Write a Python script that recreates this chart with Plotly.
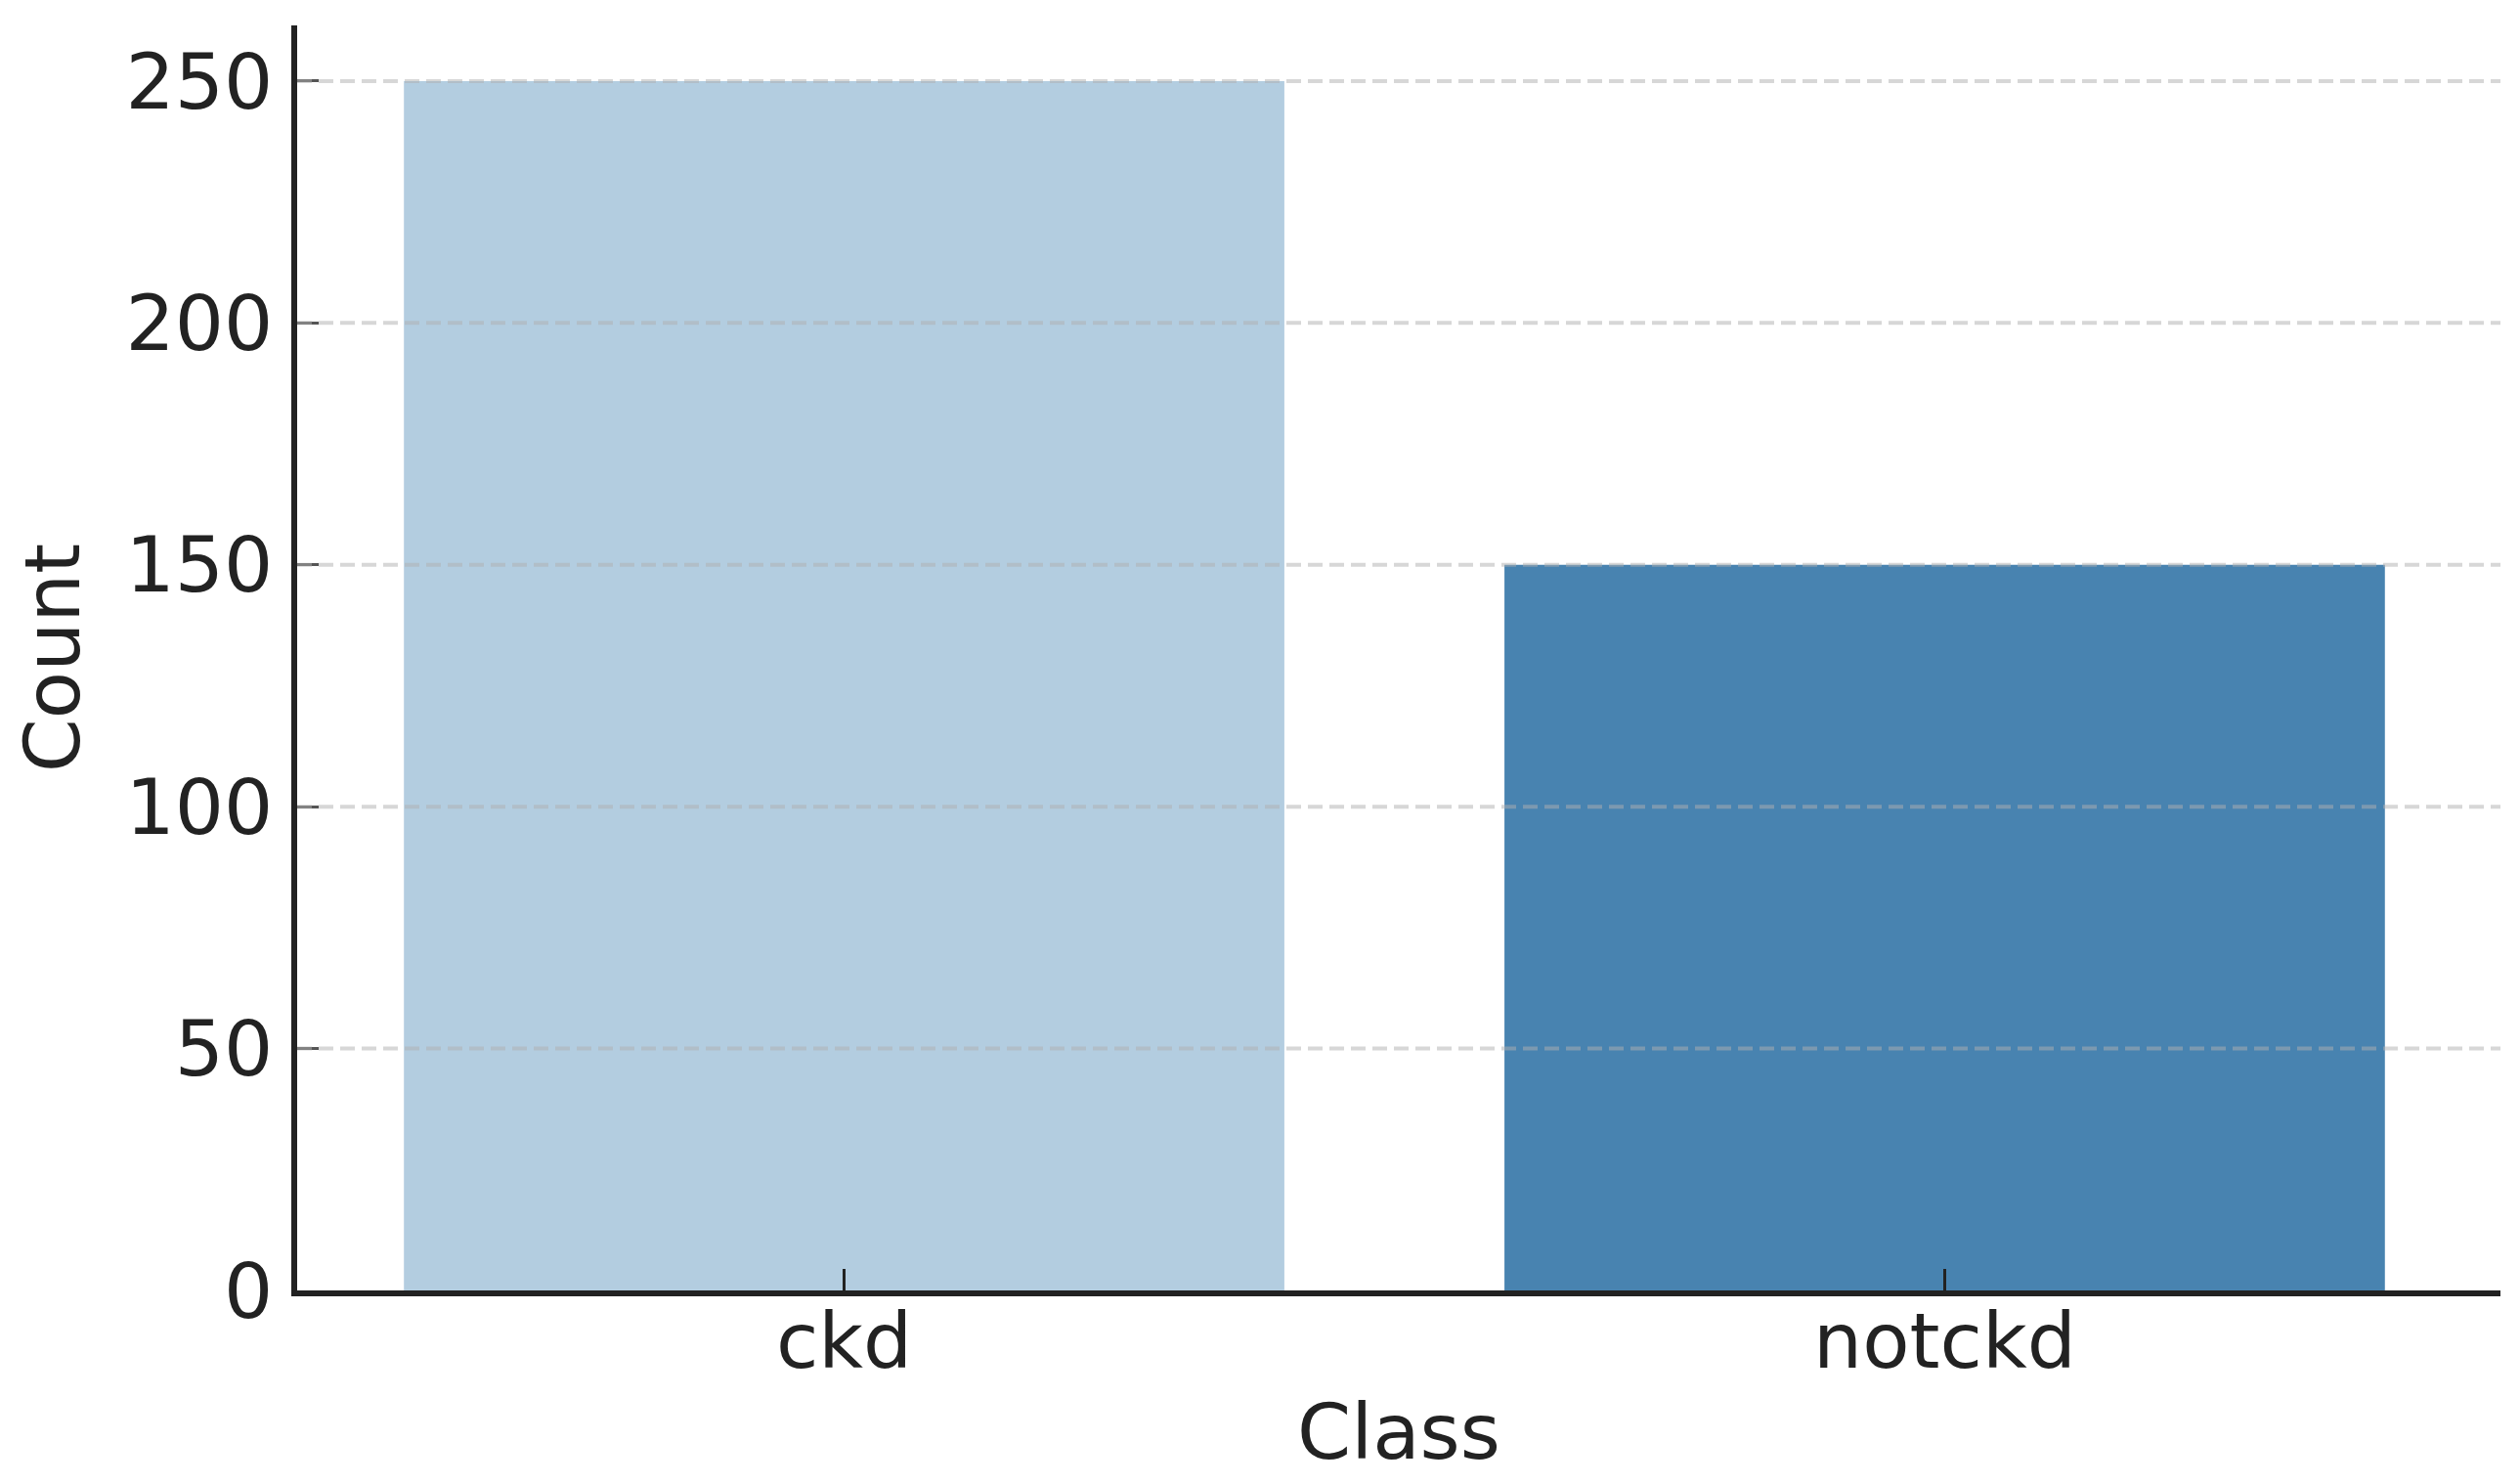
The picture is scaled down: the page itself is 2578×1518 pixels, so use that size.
import plotly.graph_objects as go

categories = ['ckd', 'notckd']
counts = [250, 150]
bar_colors = ['#b3cde0', '#4883b0']
y_ticks = [0, 50, 100, 150, 200, 250]

FONT = dict(family='DejaVu Sans', size=79, color='#222222')
GRID = dict(color='rgba(176,176,176,0.5)', width=4, dash='15px,7px')

fig = go.Figure()
fig.add_trace(go.Bar(
    x=categories,
    y=counts,
    width=0.8,
    marker=dict(color=bar_colors, line=dict(width=0)),
    hovertemplate='<b>%{x}</b><br>Count: %{y}<extra></extra>',
))

# grid drawn over the bars, as in the source image
for v in y_ticks[1:]:
    fig.add_hline(y=v, line=GRID, layer='above')

# page body adds an 8px offset, margins compensate for it
fig.update_layout(
    width=2578,
    height=1518,
    plot_bgcolor='white',
    paper_bgcolor='white',
    font=FONT,
    showlegend=False,
    margin=dict(l=296, r=28, t=18, b=206),
)

fig.update_xaxes(
    range=[-0.497, 1.505],
    showgrid=False,
    zeroline=False,
    showline=True,
    linecolor='#222222',
    linewidth=6,
    ticks='inside',
    ticklen=22,
    tickwidth=3,
    tickcolor='#222222',
    ticklabelstandoff=-22,
    layer='above traces',
    automargin=False,
    title=dict(text='Class', font=FONT, standoff=22),
)

fig.update_yaxes(
    range=[0, 261.5],
    tickvals=y_ticks,
    showgrid=False,
    zeroline=False,
    showline=True,
    linecolor='#222222',
    linewidth=6,
    ticks='inside',
    ticklen=22,
    tickwidth=3,
    tickcolor='#555555',
    ticklabelstandoff=3,
    layer='above traces',
    automargin=False,
    title=dict(text='Count', font=FONT, standoff=46),
)

fig.write_html('out.html')
